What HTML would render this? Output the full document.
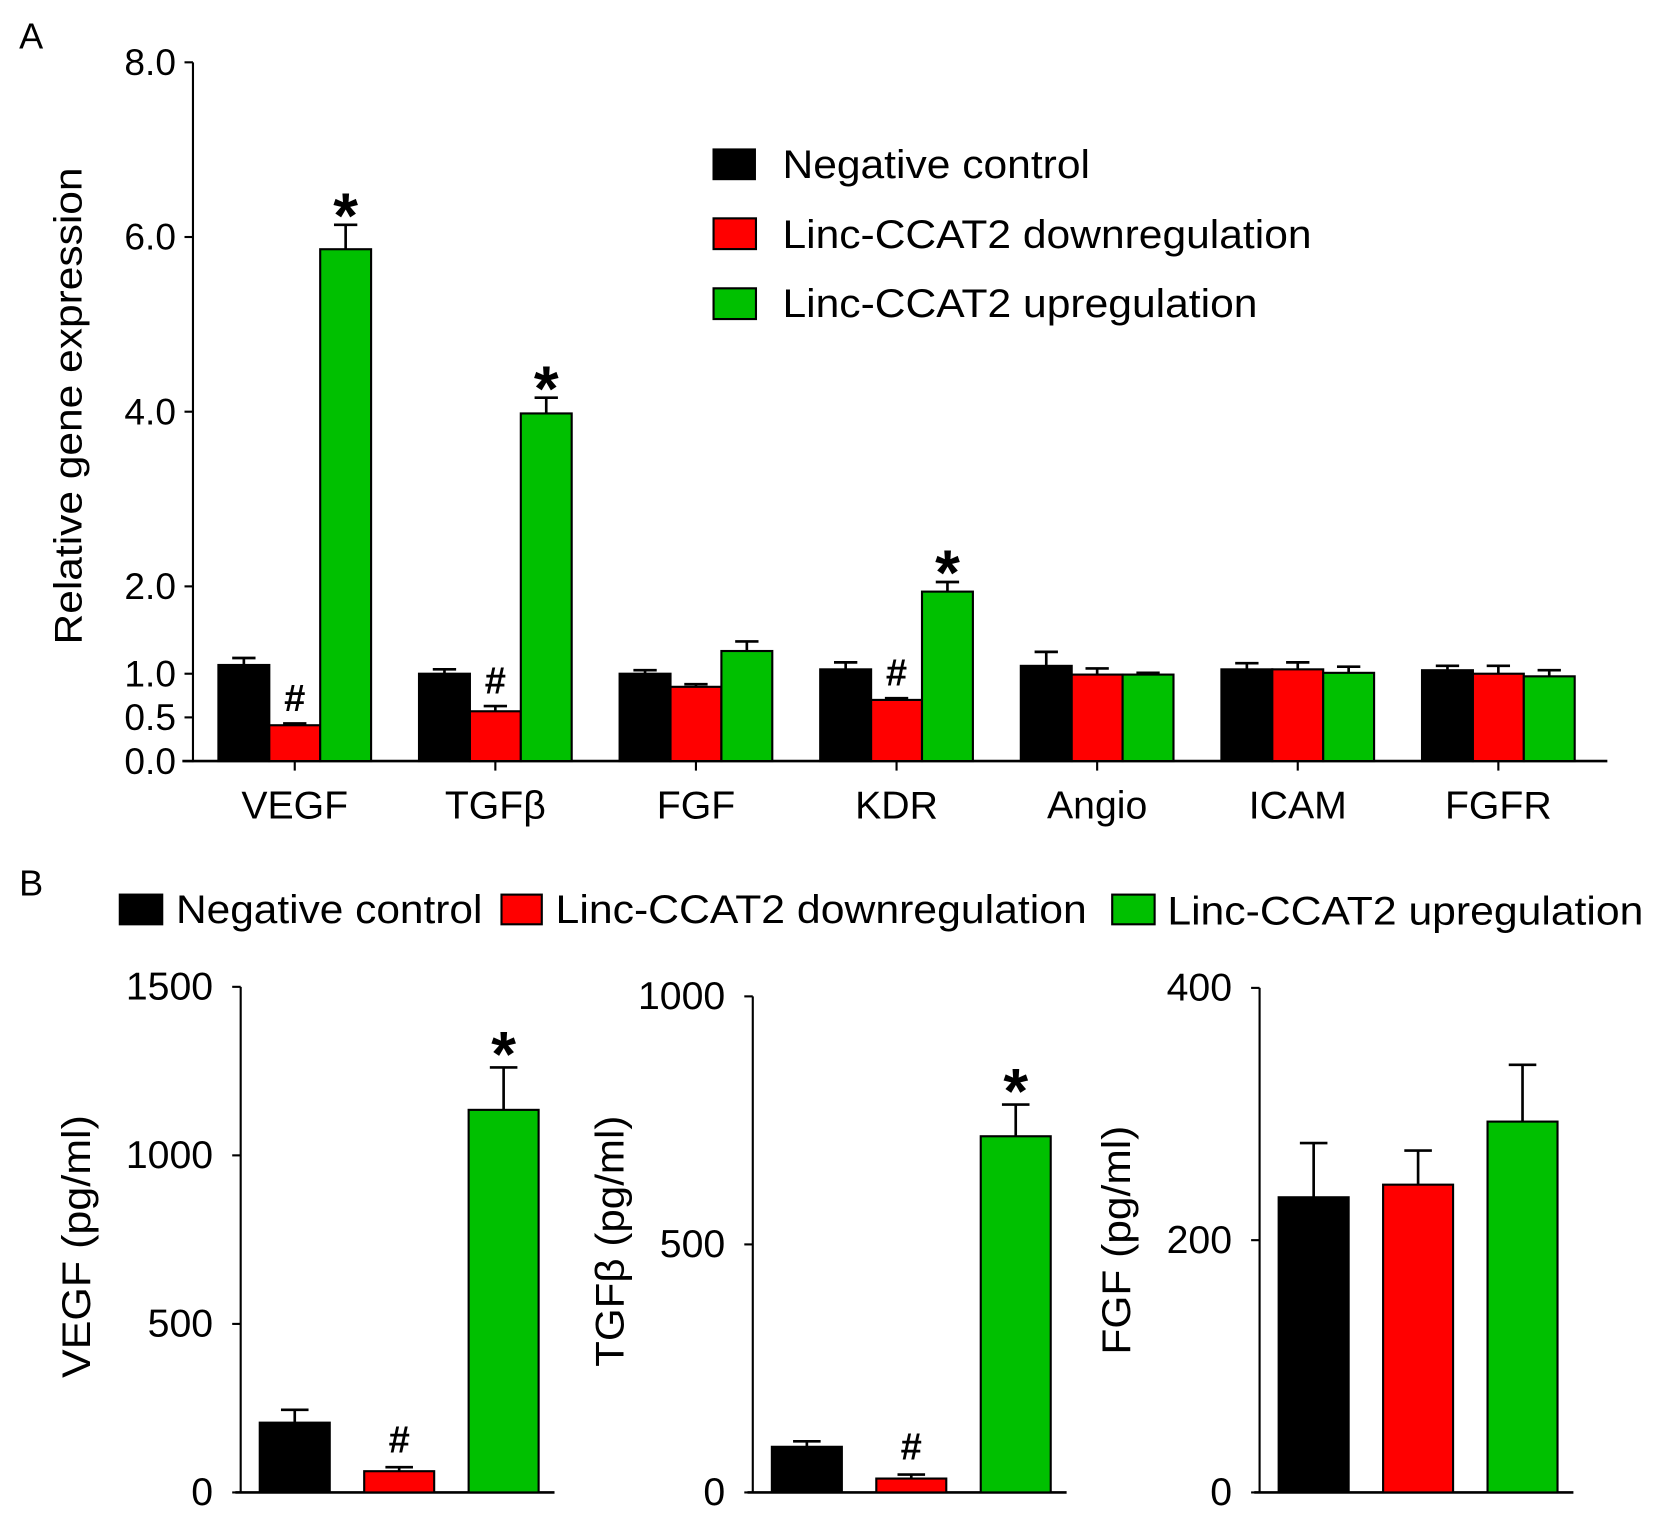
<!DOCTYPE html>
<html><head><meta charset="utf-8"><style>
html,body{margin:0;padding:0;background:#fff}
svg{display:block;font-family:"Liberation Sans",sans-serif}
</style></head><body>
<svg id="fig" width="1654" height="1520" viewBox="0 0 1560 1434" preserveAspectRatio="none" xmlns="http://www.w3.org/2000/svg">
<text x="18" y="46" font-size="34">A</text>
<text x="18" y="845" font-size="34">B</text>
<text transform="translate(77,383) rotate(-90)" text-anchor="middle" font-size="37" textLength="450" lengthAdjust="spacingAndGlyphs">Relative gene expression</text>
<g>
<rect x="672" y="140" width="41" height="30" fill="#000"/>
<text x="738" y="168" font-size="38" textLength="290" lengthAdjust="spacingAndGlyphs">Negative control</text>
<rect x="673" y="206" width="40" height="29" fill="#f00" stroke="#000" stroke-width="2"/>
<text x="738" y="234" font-size="38" textLength="499" lengthAdjust="spacingAndGlyphs">Linc-CCAT2 downregulation</text>
<rect x="673" y="272" width="40" height="29" fill="#00c000" stroke="#000" stroke-width="2"/>
<text x="738" y="299" font-size="38" textLength="448" lengthAdjust="spacingAndGlyphs">Linc-CCAT2 upregulation</text>
</g>
<g>
<rect x="112" y="843" width="42" height="30" fill="#000"/>
<text x="166" y="871" font-size="38" textLength="289" lengthAdjust="spacingAndGlyphs">Negative control</text>
<rect x="473" y="844" width="38" height="28" fill="#f00" stroke="#000" stroke-width="2"/>
<text x="524" y="871" font-size="38" textLength="501" lengthAdjust="spacingAndGlyphs">Linc-CCAT2 downregulation</text>
<rect x="1049" y="844" width="40" height="28" fill="#00c000" stroke="#000" stroke-width="2"/>
<text x="1101" y="872" font-size="38" textLength="449" lengthAdjust="spacingAndGlyphs">Linc-CCAT2 upregulation</text>
</g>
<text transform="translate(85,1176) rotate(-90)" text-anchor="middle" font-size="38" textLength="248" lengthAdjust="spacingAndGlyphs">VEGF (pg/ml)</text>
<text transform="translate(588,1171) rotate(-90)" text-anchor="middle" font-size="38" textLength="237" lengthAdjust="spacingAndGlyphs">TGFβ (pg/ml)</text>
<text transform="translate(1066,1170) rotate(-90)" text-anchor="middle" font-size="38" textLength="216" lengthAdjust="spacingAndGlyphs">FGF (pg/ml)</text>
</svg>
<script>
// Panel A data
const categoriesA = ["VEGF","TGFβ","FGF","KDR","Angio","ICAM","FGFR"];
const negA = [1.10,1.00,1.00,1.05,1.09,1.05,1.04];
const downA = [0.41,0.57,0.85,0.70,0.99,1.05,1.00];
const upA = [5.86,3.98,1.26,1.94,0.99,1.01,0.97];
const negErrA = [1.18,1.05,1.04,1.13,1.25,1.12,1.09];
const downErrA = [0.43,0.63,0.88,0.72,1.06,1.13,1.09];
const upErrA = [6.14,4.16,1.37,2.05,1.01,1.08,1.04];
const marksA = ["#","#","","#","","",""];
const marksUpA = ["*","*","","*","","",""];
const ticksA = [0,0.5,1,2,4,6,8];
const tickLabelsA = ["0.0","0.5","1.0","2.0","4.0","6.0","8.0"];
// Panel B data
const panelsB = ["VEGF","TGFβ","FGF"];
const valuesB = [[207,63,1135],[92,28,718],[234,244,294]];
const errB = [[245,75,1261],[103,36,782],[277,271,339]];
const marksB = [["","#","*"],["","#","*"],["","",""]];
const maxB = [1500,1000,400];
const ticksB = [[0,500,1000,1500],[0,500,1000],[0,200,400]];

const NS="http://www.w3.org/2000/svg";
const svg=document.getElementById('fig');
const colors=["#000","#f00","#00c000"];
function mk(tag,attrs,parent){const e=document.createElementNS(NS,tag);for(const k in attrs)e.setAttribute(k,attrs[k]);(parent||svg).appendChild(e);return e;}

// Panel A axes
const yA=v=>718-v*82.4;
const xA=i=>278+i*189.2;
const gA=mk('g',{});


let ax=mk('line',{x1:182,y1:yA(8),x2:182,y2:yA(0)+1,stroke:"#000","stroke-width":2},gA);


ax=mk('line',{x1:172,y1:yA(0),x2:1516,y2:yA(0),stroke:"#000","stroke-width":2.5},gA);


ticksA.forEach((t,i)=>{
  mk('line',{x1:174,y1:yA(t),x2:182,y2:yA(t),stroke:"#000","stroke-width":2},gA);
  const tx=mk('text',{x:166,y:yA(t)+12,"text-anchor":"end","font-size":35},gA);
  tx.textContent=tickLabelsA[i];
  
  
});
const seriesA=[negA,downA,upA], errsA=[negErrA,downErrA,upErrA];
categoriesA.forEach((c,i)=>{
  const cx=xA(i);
  mk('line',{x1:cx,y1:yA(0),x2:cx,y2:yA(0)+9,stroke:"#000","stroke-width":2},gA);
  const lb=mk('text',{x:cx,y:772,"text-anchor":"middle","font-size":37},gA);
  lb.textContent=c;
  
  
  seriesA.forEach((s,j)=>{
    const bx=cx-72+j*48;
    const ex=bx+24;
    mk('line',{x1:ex,y1:yA(errsA[j][i]),x2:ex,y2:yA(s[i]),stroke:"#000","stroke-width":2.5},gA);
    mk('line',{x1:ex-11,y1:yA(errsA[j][i]),x2:ex+11,y2:yA(errsA[j][i]),stroke:"#000","stroke-width":2.5},gA);
    const r=mk('rect',{x:bx,y:yA(s[i]),width:48,height:yA(0)-yA(s[i]),fill:colors[j],stroke:"#000","stroke-width":2},gA);
    
    
  });
  if(marksA[i]){const m=mk('text',{x:cx,y:yA(downErrA[i])-12,"text-anchor":"middle","font-size":36,"font-weight":"bold"},gA);m.textContent=marksA[i];}
  if(marksUpA[i]){const m=mk('text',{x:cx+48,y:yA(upErrA[i])+12,"text-anchor":"middle","font-size":60,"font-weight":"bold"},gA);m.textContent=marksUpA[i];}
});

// Panel B
const axisXB=[227,710,1188];
const base=1408, topY=[931,940,932];
panelsB.forEach((p,k)=>{
  const g=mk('g',{});
  
  
  const y=v=>base-v/maxB[k]*(base-topY[k]);
  const x0=axisXB[k];
  let a=mk('line',{x1:x0,y1:topY[k],x2:x0,y2:base,stroke:"#000","stroke-width":2},g);
  
  
  a=mk('line',{x1:x0-5,y1:base,x2:x0+296,y2:base,stroke:"#000","stroke-width":2.5},g);
  
  
  ticksB[k].forEach(t=>{
    mk('line',{x1:x0-8,y1:y(t),x2:x0,y2:y(t),stroke:"#000","stroke-width":2},g);
    const tx=mk('text',{x:x0-26,y:y(t)+12,"text-anchor":"end","font-size":37},g);
    tx.textContent=t;
    
    
  });
  valuesB[k].forEach((v,j)=>{
    const bx=x0+18+j*98.5, w=66, ex=bx+w/2;
    mk('line',{x1:ex,y1:y(errB[k][j]),x2:ex,y2:y(v),stroke:"#000","stroke-width":2.5},g);
    mk('line',{x1:ex-13,y1:y(errB[k][j]),x2:ex+13,y2:y(errB[k][j]),stroke:"#000","stroke-width":2.5},g);
    const r=mk('rect',{x:bx,y:y(v),width:w,height:base-y(v),fill:colors[j],stroke:"#000","stroke-width":2},g);
    
    
    const m=marksB[k][j];
    if(m==="#"){const t=mk('text',{x:ex,y:y(errB[k][j])-14,"text-anchor":"middle","font-size":36,"font-weight":"bold"},g);t.textContent=m;}
    if(m==="*"){const t=mk('text',{x:ex,y:y(errB[k][j])+8,"text-anchor":"middle","font-size":60,"font-weight":"bold"},g);t.textContent=m;}
  });
});
</script>
</body></html>
